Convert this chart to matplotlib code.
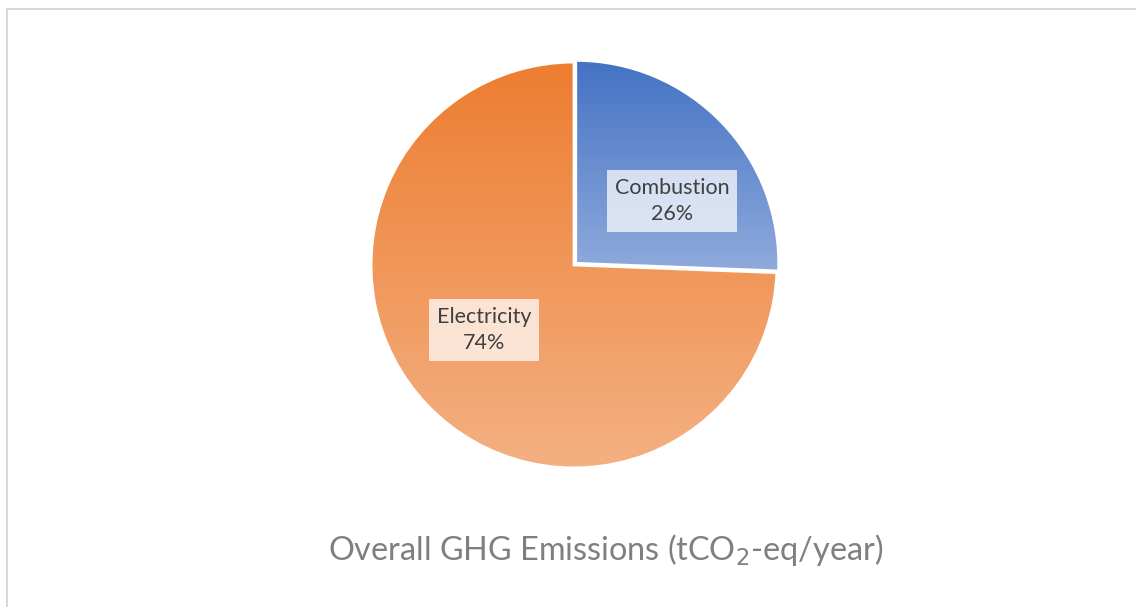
import numpy as np
import matplotlib.pyplot as plt
from matplotlib.colors import LinearSegmentedColormap
from matplotlib.lines import Line2D

labels = ['Combustion', 'Electricity']
shares = [25.6, 74.4]
top_colors = ['#4472C4', '#ED7D31']
bottom_colors = ['#8FAADC', '#F4B183']
title = 'Overall GHG Emissions (tCO$_2$-eq/year)'

plt.rcParams['font.family'] = ['Lato', 'DejaVu Sans']

fig = plt.figure(figsize=(11.36, 6.07), dpi=100)
ax = fig.add_axes([0, 0, 1, 1])
ax.set_xlim(0, 1136)
ax.set_ylim(607, 0)
ax.axis('off')
ax.set_zorder(3)

# pie drawn in its own axes placed over the image area
cx, cy, r = 574, 265, 207
pax = fig.add_axes([(cx - r) / 1136, 1 - (cy + r) / 607, 2 * r / 1136, 2 * r / 607])
pax.set_aspect('equal')

wedges, _ = pax.pie(shares, startangle=90, counterclock=False, radius=1,
                    explode=[0.012, 0], colors=['none', 'none'],
                    wedgeprops=dict(edgecolor='none'))

for w, c0, c1 in zip(wedges, top_colors, bottom_colors):
    path = w.get_path()
    verts = w.get_transform().transform(path.vertices)
    verts = pax.transData.inverted().transform(verts)
    x0, x1 = verts[:, 0].min(), verts[:, 0].max()
    y0, y1 = verts[:, 1].min(), verts[:, 1].max()
    cmap = LinearSegmentedColormap.from_list('g', [c1, c0])
    grad = np.linspace(0, 1, 256).reshape(-1, 1)
    im = pax.imshow(grad, cmap=cmap, extent=[x0, x1, y0, y1], origin='lower',
                    aspect='auto', zorder=1)
    im.set_clip_path(w)
    w.set_edgecolor('white')
    w.set_linewidth(2)
    w.set_zorder(2)

pax.set_xlim(-1.02, 1.02)
pax.set_ylim(-1.02, 1.02)
pax.axis('off')

# data labels
label_pos = [(672, 201), (484, 330)]
for lab, val, (lx, ly) in zip(labels, shares, label_pos):
    ax.text(lx, ly, f'{lab}\n{val:.0f}%', ha='center', va='center',
            fontsize=15.5, color='#404040', linespacing=1.35,
            bbox=dict(boxstyle='square,pad=0.38', facecolor='white',
                      edgecolor='none', alpha=0.72), zorder=5)

ax.text(606, 550, title, ha='center', va='center', fontsize=23.3, color='#7F7F7F')

# chart area border
ax.add_line(Line2D([6.5, 6.5, 1136], [607, 8.5, 8.5], color='#D9D9D9', lw=1.5))

fig.savefig('out.png', dpi=100)
